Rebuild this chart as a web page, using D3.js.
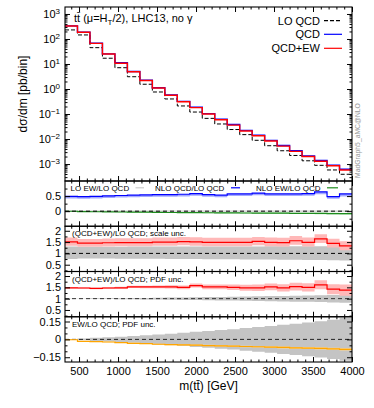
<!DOCTYPE html>
<html>
<head>
<meta charset="utf-8">
<script src="https://cdn.jsdelivr.net/npm/d3@7"></script>
<style>
  body { margin: 0; background: white; }
  svg { font-family: "Liberation Sans", Arial, sans-serif; }
</style>
</head>
<body>
<div class="chart"></div>
<script>
// bins in m(tt) [GeV]
var binEdges = [320, 480, 640, 800, 960, 1120, 1280, 1440, 1600, 1760, 1920, 2080,
                2240, 2400, 2560, 2720, 2880, 3040, 3200, 3360, 3520, 3680, 3840, 4000];

// main panel, pb/bin
var loQcd = [230, 145, 45, 17, 7.1, 3.1, 1.55, 0.76, 0.40, 0.21, 0.12, 0.067,
             0.040, 0.024, 0.015, 0.0089, 0.0054, 0.0034, 0.0022, 0.00135, 0.00089, 0.00058, 0.00039];
var qcd = [335, 188, 68, 25.5, 11.2, 5.0, 2.26, 1.13, 0.58, 0.32, 0.187, 0.104,
           0.062, 0.038, 0.0222, 0.0142, 0.0088, 0.0055, 0.0034, 0.00213, 0.00138, 0.0009, 0.00062];
var qcdEw = [331, 185, 67, 25, 10.7, 4.9, 2.2, 1.1, 0.56, 0.31, 0.18, 0.10,
             0.059, 0.036, 0.021, 0.0135, 0.0083, 0.0052, 0.0032, 0.0020, 0.0013, 0.00085, 0.00058];

// panel 2
var loEwRatio = [0.003, 0.003, 0.003, 0.003, 0.003, 0.003, 0.003, 0.003, 0.003, 0.003, 0.003, 0.003,
                 0.003, 0.003, 0.003, 0.003, 0.003, 0.003, 0.003, 0.003, 0.003, 0.003, 0.003];
var nloQcdRatio = [0.49, 0.48, 0.49, 0.51, 0.52, 0.53, 0.54, 0.55, 0.55, 0.56, 0.58, 0.55,
                   0.53, 0.57, 0.57, 0.60, 0.57, 0.57, 0.57, 0.58, 0.64, 0.48, 0.57];
var nloQcdLow = [0.42, 0.41, 0.42, 0.44, 0.45, 0.46, 0.47, 0.48, 0.48, 0.49, 0.51, 0.48,
                 0.46, 0.50, 0.50, 0.53, 0.50, 0.50, 0.50, 0.51, 0.56, 0.41, 0.49];
var ewRatio = [-0.003, -0.016, -0.019, -0.022, -0.027, -0.033, -0.035, -0.041, -0.044, -0.046, -0.049, -0.052,
               -0.054, -0.057, -0.060, -0.062, -0.065, -0.068, -0.071, -0.073, -0.076, -0.079, -0.084];
var ewScaleUnc = [0.003, 0.004, 0.005, 0.006, 0.007, 0.008, 0.009, 0.010, 0.011, 0.012, 0.013, 0.014,
                  0.015, 0.016, 0.017, 0.018, 0.019, 0.020, 0.021, 0.022, 0.023, 0.024, 0.025];

// panel 3: (QCD+EW)/LO QCD, scale unc.
var ratioScale = [1.51, 1.45, 1.45, 1.47, 1.48, 1.48, 1.48, 1.50, 1.50, 1.52, 1.51, 1.49,
                  1.49, 1.49, 1.49, 1.53, 1.49, 1.48, 1.56, 1.49, 1.64, 1.44, 1.33];
var scaleUp = [0.19, 0.19, 0.19, 0.19, 0.19, 0.19, 0.19, 0.20, 0.20, 0.20, 0.20, 0.20,
               0.20, 0.20, 0.20, 0.20, 0.21, 0.21, 0.21, 0.21, 0.21, 0.21, 0.21];
var scaleDown = [0.17, 0.16, 0.16, 0.16, 0.16, 0.16, 0.16, 0.16, 0.16, 0.16, 0.17, 0.17,
                 0.17, 0.17, 0.17, 0.17, 0.17, 0.17, 0.18, 0.18, 0.18, 0.18, 0.19];
var loScaleUp = [0.30, 0.29, 0.29, 0.29, 0.29, 0.30, 0.30, 0.30, 0.30, 0.30, 0.31, 0.31,
                 0.31, 0.31, 0.31, 0.31, 0.32, 0.32, 0.32, 0.32, 0.32, 0.33, 0.33];
var loScaleDown = [0.25, 0.23, 0.23, 0.23, 0.24, 0.24, 0.24, 0.24, 0.25, 0.25, 0.25, 0.26,
                   0.26, 0.26, 0.27, 0.27, 0.27, 0.28, 0.28, 0.29, 0.29, 0.30, 0.31];

// panel 4: (QCD+EW)/LO QCD, PDF unc.
var ratioPdf = [1.48, 1.47, 1.45, 1.47, 1.48, 1.52, 1.52, 1.52, 1.52, 1.50, 1.58, 1.52,
                1.52, 1.50, 1.48, 1.48, 1.52, 1.48, 1.53, 1.50, 1.61, 1.42, 1.38];
var pdfUnc = [0.03, 0.03, 0.035, 0.04, 0.045, 0.05, 0.055, 0.06, 0.07, 0.08, 0.09, 0.10,
              0.11, 0.12, 0.13, 0.14, 0.15, 0.16, 0.17, 0.18, 0.20, 0.22, 0.25];
var loPdfUnc = [0.003, 0.008, 0.013, 0.018, 0.023, 0.028, 0.034, 0.041, 0.048, 0.055, 0.063, 0.070,
                0.078, 0.086, 0.095, 0.104, 0.113, 0.122, 0.132, 0.142, 0.153, 0.165, 0.18];

// panel 5: EW/LO QCD, PDF unc.
var ewPdfUnc = [0.002, 0.002, 0.003, 0.003, 0.003, 0.004, 0.004, 0.004, 0.005, 0.005, 0.005, 0.006,
                0.006, 0.006, 0.007, 0.007, 0.007, 0.008, 0.008, 0.008, 0.009, 0.009, 0.010];

var xTickLabels = [500, 1000, 1500, 2000, 2500, 3000, 3500, 4000];

var left = 65, right = 352;
var svg = d3.select(".chart")
            .append("svg")
            .attr("width", 374)
            .attr("height", 408)
            .style("background-color", "white");

var x = d3.scaleLinear().domain([320, 4000]).range([left, right]);
var yMain = d3.scaleLog().domain([2.1e-4, 1900]).range([181, 7]);
var y2 = d3.scaleLinear().domain([-0.5, 1]).range([226.25, 181]);
var y3 = d3.scaleLinear().domain([0.2, 2.2]).range([271.5, 226.25]);
var y4 = d3.scaleLinear().domain([0.2, 2.2]).range([316.75, 271.5]);
var y5 = d3.scaleLinear().domain([-0.19, 0.19]).range([362, 316.75]);

function stepPoints(vals) {
  var pts = [];
  vals.forEach(function(v, i) {
    pts.push([binEdges[i], v]);
    pts.push([binEdges[i + 1], v]);
  });
  return pts;
}

function panel(id, y) {
  var r = y.range();
  svg.append("clipPath").attr("id", id)
     .append("rect")
     .attr("x", left).attr("y", r[1])
     .attr("width", right - left).attr("height", r[0] - r[1]);
  return svg.append("g").attr("clip-path", "url(#" + id + ")");
}

function drawStep(g, y, vals, color, width, dash) {
  var line = d3.line()
               .x(function(d) { return x(d[0]); })
               .y(function(d) { return y(d[1]); });
  g.append("path")
   .attr("d", line(stepPoints(vals)))
   .attr("fill", "none")
   .attr("stroke", color)
   .attr("stroke-width", width)
   .attr("stroke-dasharray", dash || null);
}

function drawBand(g, y, lo, hi, color) {
  var hiPts = stepPoints(hi);
  var pts = stepPoints(lo).map(function(p, i) { return [p[0], p[1], hiPts[i][1]]; });
  var area = d3.area()
               .x(function(d) { return x(d[0]); })
               .y0(function(d) { return y(d[1]); })
               .y1(function(d) { return y(d[2]); });
  g.append("path").attr("d", area(pts)).attr("fill", color).attr("stroke", "none");
}

function hline(g, y, v, color) {
  g.append("line")
   .attr("x1", left).attr("x2", right)
   .attr("y1", y(v)).attr("y2", y(v))
   .attr("stroke", color)
   .attr("stroke-width", 1)
   .attr("stroke-dasharray", "4,3");
}

function plus(a, b) { return a.map(function(v, i) { return v + b[i]; }); }
function minus(a, b) { return a.map(function(v, i) { return v - b[i]; }); }
function neg(a) { return a.map(function(v) { return -v; }); }
var ones = binEdges.slice(1).map(function() { return 1; });

// main panel
var g1 = panel("c1", yMain);
drawStep(g1, yMain, loQcd, "black", 1, "4,2");
drawStep(g1, yMain, qcd, "#0000ff", 1.4);
drawStep(g1, yMain, qcdEw, "#ff0000", 1.4);

// panel 2
var g2 = panel("c2", y2);
drawBand(g2, y2, nloQcdLow, nloQcdRatio, "#a3a9ff");
drawStep(g2, y2, nloQcdRatio, "#0000ff", 1.2);
drawStep(g2, y2, loEwRatio, "#cccccc", 1.2);
drawBand(g2, y2, minus(ewRatio, ewScaleUnc), plus(ewRatio, ewScaleUnc), "#a6dca6");
drawStep(g2, y2, ewRatio, "#1e8c1e", 1.2);
hline(g2, y2, 0, "black");

// panel 3
var g3 = panel("c3", y3);
drawBand(g3, y3, minus(ones, loScaleDown), plus(ones, loScaleUp), "#c4c4c4");
drawBand(g3, y3, minus(ratioScale, scaleDown), plus(ratioScale, scaleUp), "#ffb8b8");
hline(g3, y3, 1, "black");
drawStep(g3, y3, ratioScale, "#ff0000", 1.2);

// panel 4
var g4 = panel("c4", y4);
drawBand(g4, y4, minus(ones, loPdfUnc), plus(ones, loPdfUnc), "#c4c4c4");
drawBand(g4, y4, minus(ratioPdf, pdfUnc), plus(ratioPdf, pdfUnc), "#ffb8b8");
hline(g4, y4, 1, "#333");
drawStep(g4, y4, ratioPdf, "#ff0000", 1.2);

// panel 5
var g5 = panel("c5", y5);
drawBand(g5, y5, neg(loPdfUnc), loPdfUnc, "#c4c4c4");
hline(g5, y5, 0, "#222");
drawBand(g5, y5, minus(ewRatio, ewPdfUnc), plus(ewRatio, ewPdfUnc), "#ffd58a");
drawStep(g5, y5, ewRatio, "#ffa500", 1.2);

// axes
function cleanAxis(sel) {
  sel.select(".domain").remove();
  sel.attr("font-family", null).attr("font-size", 11);
}

function yAxes(y, major, minor, fmt) {
  svg.append("g").attr("transform", "translate(" + left + ",0)")
     .call(d3.axisLeft(y).tickValues(major).tickSize(-5).tickPadding(4).tickFormat(fmt))
     .call(cleanAxis);
  svg.append("g").attr("transform", "translate(" + left + ",0)")
     .call(d3.axisLeft(y).tickValues(minor).tickSize(-2.5).tickFormat(""))
     .call(cleanAxis);
  svg.append("g").attr("transform", "translate(" + right + ",0)")
     .call(d3.axisRight(y).tickValues(major).tickSize(-5).tickFormat(""))
     .call(cleanAxis);
  svg.append("g").attr("transform", "translate(" + right + ",0)")
     .call(d3.axisRight(y).tickValues(minor).tickSize(-2.5).tickFormat(""))
     .call(cleanAxis);
}

var xMinor = d3.range(400, 4000, 100).filter(function(v) { return v % 500 != 0; });
function xAxes(y, labels) {
  var r = y.range();
  svg.append("g").attr("transform", "translate(0," + r[0] + ")")
     .call(d3.axisBottom(x).tickValues(xTickLabels).tickSize(-5).tickPadding(5)
             .tickFormat(labels ? d3.format("d") : ""))
     .call(cleanAxis);
  svg.append("g").attr("transform", "translate(0," + r[0] + ")")
     .call(d3.axisBottom(x).tickValues(xMinor).tickSize(-2.5).tickFormat(""))
     .call(cleanAxis);
  svg.append("g").attr("transform", "translate(0," + r[1] + ")")
     .call(d3.axisTop(x).tickValues(xTickLabels).tickSize(-5).tickFormat(""))
     .call(cleanAxis);
  svg.append("g").attr("transform", "translate(0," + r[1] + ")")
     .call(d3.axisTop(x).tickValues(xMinor).tickSize(-2.5).tickFormat(""))
     .call(cleanAxis);
}

var decades = [1e-3, 1e-2, 1e-1, 1, 10, 100, 1000];
var logMinor = [];
[1e-4, 1e-3, 1e-2, 1e-1, 1, 10, 100, 1000].forEach(function(d) {
  for (var m = 2; m < 10; m++) {
    if (m * d > 2.1e-4 && m * d < 1900) logMinor.push(m * d);
  }
});
yAxes(yMain, decades, logMinor, "");
svg.append("g").attr("transform", "translate(" + left + ",0)")
   .call(d3.axisLeft(yMain).tickValues(decades).tickSize(0).tickPadding(5).tickFormat(""))
   .call(cleanAxis)
   .selectAll(".tick text")
   .each(function(d) {
     var e = Math.round(Math.log10(d));
     var t = d3.select(this);
     t.append("tspan").text("10");
     t.append("tspan").attr("dy", "-0.45em").attr("font-size", 8)
      .text(e < 0 ? "\u2212" + (-e) : e);
   });

yAxes(y2, [0, 0.5], [-0.25, 0.25, 0.75], function(d) { return d; });
yAxes(y3, [0.5, 1, 1.5, 2], [0.25, 0.75, 1.25, 1.75], function(d) { return d; });
yAxes(y4, [0.5, 1, 1.5, 2], [0.25, 0.75, 1.25, 1.75], function(d) { return d; });
yAxes(y5, [-0.15, 0, 0.15], [-0.1, -0.05, 0.05, 0.1],
      function(d) { return d < 0 ? "\u2212" + (-d) : d; });

xAxes(yMain, false);
xAxes(y2, false);
xAxes(y3, false);
xAxes(y4, false);
xAxes(y5, true);

// frames
[yMain, y2, y3, y4, y5].forEach(function(y) {
  var r = y.range();
  svg.append("rect")
     .attr("x", left).attr("y", r[1])
     .attr("width", right - left).attr("height", r[0] - r[1])
     .attr("fill", "none")
     .attr("stroke", "black")
     .attr("stroke-width", 1.1);
});

// title and legend
var title = svg.append("text").attr("x", 74).attr("y", 21.5).style("font-size", "11px");
title.append("tspan").text("tt\u0304 (\u03bc=H");
title.append("tspan").attr("dy", 3).style("font-size", "8px").text("T");
title.append("tspan").attr("dy", -3).text("/2), LHC13, no \u03b3");

var legend = [
  {name: "LO QCD", color: "black", dash: "4,2", y: 20.7},
  {name: "QCD", color: "#0000ff", dash: null, y: 34.3},
  {name: "QCD+EW", color: "#ff0000", dash: null, y: 48.3}
];
legend.forEach(function(l) {
  svg.append("text")
     .attr("x", 320).attr("y", l.y + 3.9)
     .attr("text-anchor", "end")
     .style("font-size", "11px")
     .text(l.name);
  svg.append("line")
     .attr("x1", 324).attr("x2", 342)
     .attr("y1", l.y).attr("y2", l.y)
     .attr("stroke", l.color)
     .attr("stroke-width", 1.2)
     .attr("stroke-dasharray", l.dash);
});

var legend2 = [
  {name: "LO EW/LO QCD", start: 70.5, x1: 135.5, x2: 144, color: "#cccccc"},
  {name: "NLO QCD/LO QCD", start: 155, x1: 231, x2: 240, color: "#0000ff"},
  {name: "NLO EW/LO QCD", start: 256, x1: 327, x2: 338, color: "#1e8c1e"}
];
legend2.forEach(function(l) {
  svg.append("text")
     .attr("x", l.start).attr("y", 190.5)
     .style("font-size", "8px")
     .text(l.name);
  svg.append("line")
     .attr("x1", l.x1).attr("x2", l.x2)
     .attr("y1", 187.8).attr("y2", 187.8)
     .attr("stroke", l.color)
     .attr("stroke-width", 1.2);
});

svg.append("text").attr("x", 72).attr("y", 235.5).style("font-size", "8px")
   .text("(QCD+EW)/LO QCD; scale unc.");
svg.append("text").attr("x", 72).attr("y", 281.5).style("font-size", "8px")
   .text("(QCD+EW)/LO QCD; PDF unc.");
svg.append("text").attr("x", 72).attr("y", 326.5).style("font-size", "8px")
   .text("EW/LO QCD; PDF unc.");

// axis titles
svg.append("text")
   .attr("text-anchor", "middle")
   .attr("transform", "translate(26.5,94) rotate(-90)")
   .style("font-size", "12px")
   .text("d\u03c3/dm [pb/bin]");
svg.append("text")
   .attr("text-anchor", "middle")
   .attr("x", 208.5).attr("y", 390)
   .style("font-size", "12px")
   .text("m(tt\u0304) [GeV]");

svg.append("text")
   .attr("transform", "translate(359.5,178) rotate(-90)")
   .style("font-size", "6.8px")
   .style("fill", "#999")
   .text("MadGraph5_aMC@NLO");
</script>
</body>
</html>
